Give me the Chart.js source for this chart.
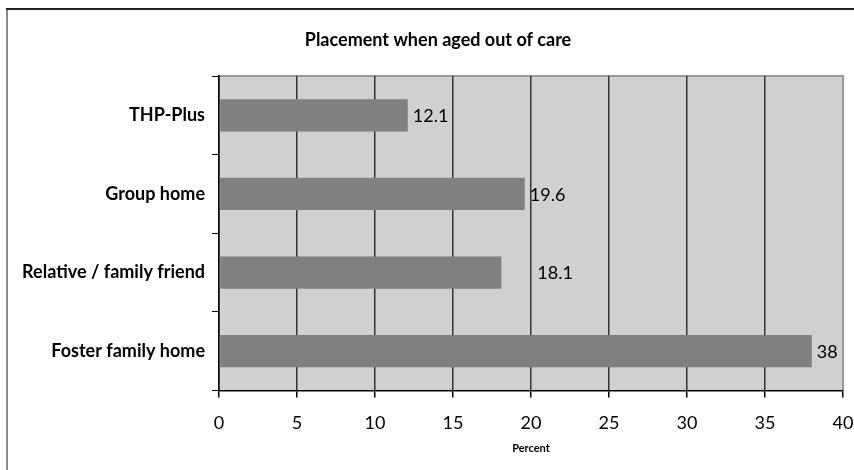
<!DOCTYPE html>
<html>
<head>
<meta charset="utf-8">
<script src="https://cdn.jsdelivr.net/npm/chart.js@4.4.1/dist/chart.umd.min.js"></script>
<style>
  html, body { margin: 0; padding: 0; background: #fff; }
  #wrap { width: 854px; height: 470px; }
</style>
</head>
<body>
<div id="wrap"><canvas id="placementChart" width="854" height="470"></canvas></div>
<script>
// Placement when aged out of care (percent)
const categories = ['THP-Plus', 'Group home', 'Relative / family friend', 'Foster family home'];
const percents = [12.1, 19.6, 18.1, 38];
const xTicks = [0, 5, 10, 15, 20, 25, 30, 35, 40];

const FONT = 'Lato, "Open Sans", sans-serif';

// frame, title and plot background
const backdrop = {
    id: 'backdrop',
    beforeDraw(chart) {
        const { ctx, chartArea: a } = chart;
        ctx.save();
        ctx.fillStyle = '#fff';
        ctx.fillRect(0, 0, chart.width, chart.height);

        // outer frame (only top and left edges fall inside the canvas)
        ctx.strokeStyle = '#888';
        ctx.lineWidth = 2;
        ctx.beginPath();
        ctx.moveTo(7, chart.height);
        ctx.lineTo(7, 9);
        ctx.stroke();
        ctx.strokeStyle = '#222';
        ctx.beginPath();
        ctx.moveTo(6, 9);
        ctx.lineTo(chart.width, 9);
        ctx.stroke();

        ctx.fillStyle = '#d0d0d0';
        ctx.fillRect(a.left, a.top, a.right - a.left, a.bottom - a.top);
        ctx.strokeStyle = '#999';
        ctx.lineWidth = 2;
        ctx.beginPath();
        ctx.moveTo(a.left, a.top);
        ctx.lineTo(a.right, a.top);
        ctx.lineTo(a.right, a.bottom);
        ctx.stroke();

        ctx.fillStyle = '#000';
        ctx.font = 'bold 18px ' + FONT;
        ctx.textAlign = 'center';
        ctx.textBaseline = 'middle';
        ctx.fillText('Placement when aged out of care', 438, 40);
        ctx.restore();
    }
};

// value labels to the right of each bar
const valueLabels = {
    id: 'valueLabels',
    afterDatasetsDraw(chart, args, opts) {
        const { ctx } = chart;
        const meta = chart.getDatasetMeta(0);
        ctx.save();
        ctx.fillStyle = '#000';
        ctx.font = '18px ' + FONT;
        ctx.textAlign = 'left';
        ctx.textBaseline = 'middle';
        meta.data.forEach((bar, i) => {
            const shift = (opts.shift && opts.shift[i]) || 0;
            ctx.fillText(String(percents[i]), bar.x + 5 + shift, bar.y + 1);
        });
        ctx.restore();
    }
};

new Chart(document.getElementById('placementChart').getContext('2d'), {
    type: 'bar',
    data: {
        labels: categories,
        datasets: [{
            label: 'Percent',
            data: percents,
            backgroundColor: '#808080',
            borderWidth: 0,
            barPercentage: 0.41,
            categoryPercentage: 1
        }]
    },
    options: {
        indexAxis: 'y',
        responsive: false,
        animation: false,
        layout: { padding: { top: 76, right: 11, left: 0, bottom: 0 } },
        plugins: {
            legend: { display: false },
            title: { display: false },
            tooltip: { enabled: false },
            valueLabels: { shift: [0, 0, 31, 0] }
        },
        scales: {
            x: {
                min: 0,
                max: 40,
                afterBuildTicks: (scale) => { scale.ticks = xTicks.map(v => ({ value: v })); },
                afterFit: (scale) => {
                    scale.height = 79.5;
                    scale.paddingLeft = 0;
                    scale.paddingRight = 0;
                },
                border: { color: '#000', width: 1.5 },
                grid: {
                    color: (c) => c.tick && c.tick.value === 40 ? '#999' : '#333',
                    lineWidth: 1.5,
                    tickColor: '#000',
                    tickLength: 7
                },
                ticks: {
                    color: '#000',
                    font: { family: FONT, size: 18 },
                    padding: 15,
                    maxRotation: 0
                },
                title: {
                    display: true,
                    text: 'Percent',
                    color: '#000',
                    font: { family: FONT, size: 11, weight: 'bold' },
                    padding: { top: 0, bottom: 15 }
                }
            },
            y: {
                afterFit: (scale) => { scale.width = 219; },
                border: { color: '#000', width: 1.5 },
                grid: {
                    offset: true,
                    drawOnChartArea: false,
                    tickColor: '#000',
                    tickLength: 7
                },
                ticks: {
                    color: '#000',
                    font: { family: FONT, size: 18, weight: 'bold' },
                    padding: 7
                }
            }
        }
    },
    plugins: [backdrop, valueLabels]
});
</script>
</body>
</html>
